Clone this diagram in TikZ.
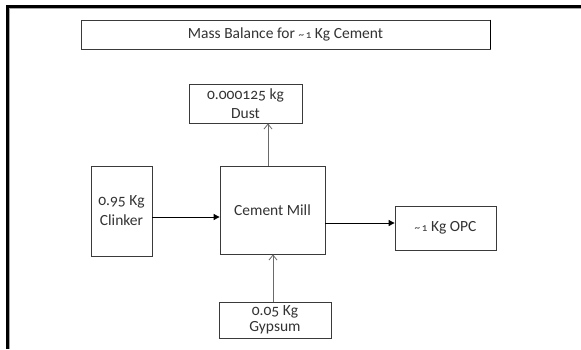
\documentclass[tikz,border=0pt]{standalone}
\usepackage{fontspec}
\setmainfont[Numbers=OldStyle]{Carlito}
\usetikzlibrary{arrows.meta}
\definecolor{txt}{HTML}{333333}
\definecolor{edge}{HTML}{3A3A3A}
\definecolor{thin}{HTML}{6A6A6A}
\newcommand{\approxone}{{\fontsize{11}{12}\selectfont\char"007E\,1}}
\tikzset{
  boxnode/.style={draw=edge, line width=0.8pt, inner sep=0pt, align=center, text=txt, font=\fontsize{15.5}{18}\selectfont},
  mainarrow/.style={draw=black, line width=0.9pt, -{Triangle[length=6pt,width=6pt]}},
  openarrow/.style={draw=thin, line width=0.8pt, -{Straight Barb[length=5pt,width=8pt,line width=0.8pt]}},
}
\begin{document}
\begin{tikzpicture}[x=1pt,y=-1pt]
\useasboundingbox (0,0) rectangle (581,349);
\fill[white] (0,0) rectangle (581,349);
% outer frame (top and left edges)
\draw[line width=2.6pt, black] (6,6.3) -- (581,6.3);
\draw[line width=2.6pt, black] (7.5,6.3) -- (7.5,349);
\draw[line width=0.8pt, black!35] (9.2,8) -- (9.2,349);
\draw[line width=0.8pt, black!35] (9.2,8) -- (581,8);
% title
\node[boxnode, minimum width=409pt, minimum height=29pt] (title) at (285.5,34.5) {Mass Balance for \approxone\ Kg Cement};
\draw[line width=1.4pt, black] (title.north east) ++(0.3,0) -- ++(0,29.6);
% boxes
\node[boxnode, minimum width=113pt, minimum height=39pt] (dust) at (245.5,103.5) {0.000125 kg\\[1pt]Dust};
\node[boxnode, minimum width=61pt, minimum height=90pt] (clinker) at (121.5,211) {0.95 Kg\\[2pt]Clinker};
\node[boxnode, minimum width=105pt, minimum height=88pt] (mill) at (272.5,210) {Cement Mill};
\node[boxnode, minimum width=101pt, minimum height=44pt] (opc) at (445.5,228) {\approxone\ Kg OPC};
\node[boxnode, minimum width=112pt, minimum height=36pt, font=\fontsize{15.5}{16}\selectfont] (gypsum) at (275,320) {0.05 Kg\\Gypsum};
% connectors
\draw[mainarrow] (clinker.east |- 0,217) -- (mill.west |- 0,217);
\draw[mainarrow] (mill.east |- 0,223) -- (opc.west |- 0,223);
\draw[openarrow] (mill.north -| 268,0) -- (dust.south -| 268,0);
\draw[openarrow] (gypsum.north -| 273,0) -- (mill.south -| 273,0);
\end{tikzpicture}
\end{document}
